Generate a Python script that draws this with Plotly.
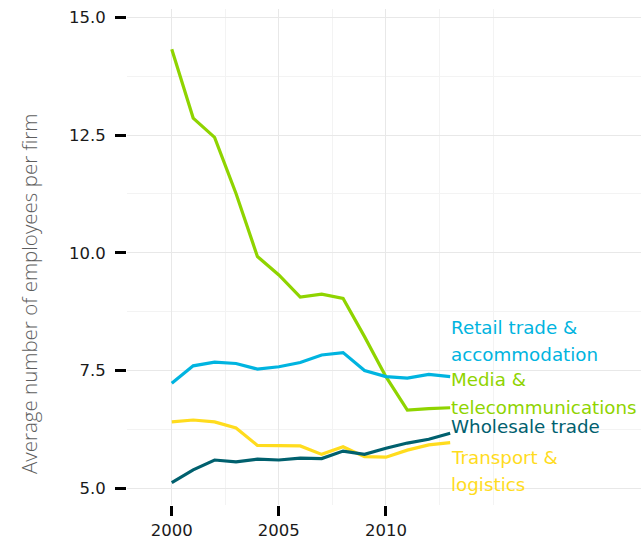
import plotly.graph_objects as go

# Average firm size by sector, 2000-2013
years = list(range(2000, 2014))

media_telecom = [14.32, 12.86, 12.45, 11.26, 9.92, 9.53, 9.06, 9.12, 9.03, 8.22, 7.37, 6.66, 6.69, 6.71]
retail_accommodation = [7.23, 7.60, 7.68, 7.65, 7.53, 7.58, 7.67, 7.83, 7.88, 7.50, 7.37, 7.34, 7.42, 7.37]
transport_logistics = [6.41, 6.45, 6.41, 6.28, 5.91, 5.90, 5.90, 5.72, 5.88, 5.67, 5.66, 5.81, 5.92, 5.97]
wholesale_trade = [5.12, 5.39, 5.60, 5.56, 5.62, 5.60, 5.64, 5.63, 5.79, 5.72, 5.85, 5.96, 6.04, 6.17]

series_names = ["Media & telecommunications", "Retail trade & accommodation",
                "Transport & logistics", "Wholesale trade"]
series_values = [media_telecom, retail_accommodation, transport_logistics, wholesale_trade]
series_colors = ["#8fd400", "#00b4e0", "#ffdc1e", "#00606e"]

# End-of-line labels, one entry per text line: (text, series index, y position)
label_lines = [
    ("Retail trade &", 1, 8.42),
    ("accommodation", 1, 7.83),
    ("Media &", 0, 7.31),
    ("telecommunications", 0, 6.72),
    ("Wholesale trade", 3, 6.32),
    ("Transport &", 2, 5.66),
    ("logistics", 2, 5.07),
]
label_x = 2012.95

y_ticks = [5.0, 7.5, 10.0, 12.5, 15.0]
x_ticks = [2000, 2005, 2010]
x_minor = [2002.5, 2007.5, 2012.5, 2015]
y_minor = [6.25, 8.75, 11.25, 13.75]

fig = go.Figure()
for name, vals, col in zip(series_names, series_values, series_colors):
    fig.add_trace(go.Scatter(x=years, y=vals, mode="lines", name=name,
                             line=dict(color=col, width=3.2), showlegend=False))

for text, idx, yv in label_lines:
    fig.add_annotation(x=label_x, y=yv, xref="x", yref="y", text=text,
                       showarrow=False, xanchor="left", yanchor="middle",
                       font=dict(family="DejaVu Sans", size=18.3, color=series_colors[idx]))

fig.add_annotation(x=-0.1907, y=0.4254, xref="paper", yref="paper",
                   text="Average number of employees per firm", showarrow=False,
                   textangle=-90, xanchor="center", yanchor="middle",
                   font=dict(family="Open Sans", size=20.5, color="#5e5e5e", weight=300))

fig.update_layout(
    width=641, height=543,
    margin=dict(l=127, r=0, t=9, b=38),
    paper_bgcolor="white", plot_bgcolor="white",
    xaxis=dict(range=[1997.91, 2021.91], tickvals=x_ticks, ticktext=[str(v) for v in x_ticks],
               showgrid=True, gridcolor="#e8e8e8", gridwidth=1.3, zeroline=False, showline=False,
               ticks="outside", ticklen=10, tickwidth=3, tickcolor="black",
               tickfont=dict(family="DejaVu Sans", size=16.5, color="#1a1a1a"),
               minor=dict(tickmode="array", tickvals=x_minor, showgrid=True,
                          gridcolor="#f3f3f3", gridwidth=1.3, ticks="")),
    yaxis=dict(range=[4.645, 15.176], tickvals=y_ticks, tickformat=".1f",
               showgrid=True, gridcolor="#e8e8e8", gridwidth=1.3, zeroline=False, showline=False,
               ticks="outside", ticklen=11, tickwidth=3, tickcolor="black",
               ticklabelstandoff=6,
               tickfont=dict(family="DejaVu Sans", size=16.5, color="#1a1a1a"),
               minor=dict(tickmode="array", tickvals=y_minor, showgrid=True,
                          gridcolor="#f3f3f3", gridwidth=1.3, ticks="")),
)

fig.write_html("out.html")
